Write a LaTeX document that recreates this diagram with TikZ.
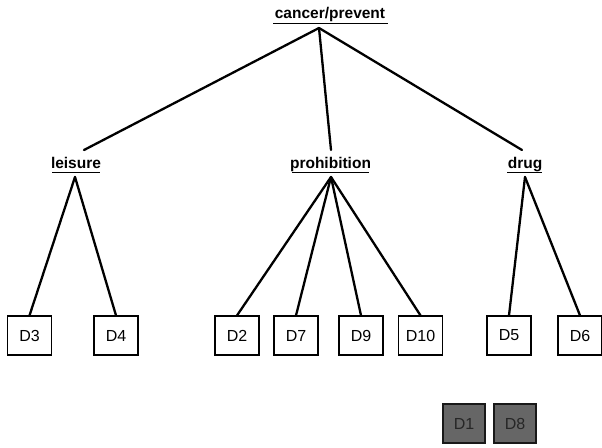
\documentclass[tikz,border=0pt]{standalone}
\usepackage{fontspec}
\setmainfont{Liberation Sans}
\begin{document}
\begin{tikzpicture}[x=1pt,y=-1pt,
  topic/.style={font=\bfseries\fontsize{15.5}{17}\selectfont, inner sep=0pt, anchor=base},
  rule/.style={line width=1.4pt},
  edge/.style={line width=2.3pt, line cap=round},
  doc/.style={draw, line width=1.1pt, minimum width=44pt, minimum height=39pt, inner sep=0pt,
    font=\fontsize{16}{18}\selectfont},
  missing/.style={doc, fill=black!60, draw=black!90, line width=1.8pt, text=black!85}]
\useasboundingbox (0,0) rectangle (602,447);

% topic labels with underlines
\node[topic] (root) at (330,18) {cancer/prevent};
\draw[rule] (273,23.5) -- (388,23.5);
\node[topic] (leis) at (76,168) {leisure};
\draw[rule] (52,172.5) -- (100,172.5);
\node[topic] (proh) at (330.5,168) {prohibition};
\draw[rule] (292,172.5) -- (369,172.5);
\node[topic] (drug) at (525,168) {drug};
\draw[rule] (507,172.5) -- (542,172.5);

\coordinate (rootB) at (319,28);
\coordinate (leisT) at (84,150);
\coordinate (prohT) at (331,150);
\coordinate (drugT) at (522,150);
\coordinate (leisB) at (75,177);
\coordinate (prohB) at (331,177);
\coordinate (drugB) at (525,177);

% document boxes
\node[doc] (d3) at (29.5,335.5) {D3};
\node[doc] (d4) at (116,335.5) {D4};
\node[doc] (d2) at (237,335.5) {D2};
\node[doc] (d7) at (296,335.5) {D7};
\node[doc] (d9) at (361,335.5) {D9};
\node[doc] (d10) at (420.5,335.5) {D10};
\node[doc] (d5) at (509,335.5) {D5};
\node[doc] (d6) at (580,335.5) {D6};

\node[missing, minimum width=42pt, minimum height=39pt] (d1) at (464,423.5) {D1};
\node[missing, minimum width=42pt, minimum height=39pt] (d8) at (515,423.5) {D8};

% tree edges
\draw[edge] (rootB) -- (leisT);
\draw[edge] (rootB) -- (prohT);
\draw[edge] (rootB) -- (drugT);
\draw[edge] (leisB) -- (d3.north);
\draw[edge] (leisB) -- (d4.north);
\draw[edge] (prohB) -- (d2.north);
\draw[edge] (prohB) -- (d7.north);
\draw[edge] (prohB) -- (d9.north);
\draw[edge] (prohB) -- (d10.north);
\draw[edge] (drugB) -- (d5.north);
\draw[edge] (drugB) -- (d6.north);
\end{tikzpicture}
\end{document}
